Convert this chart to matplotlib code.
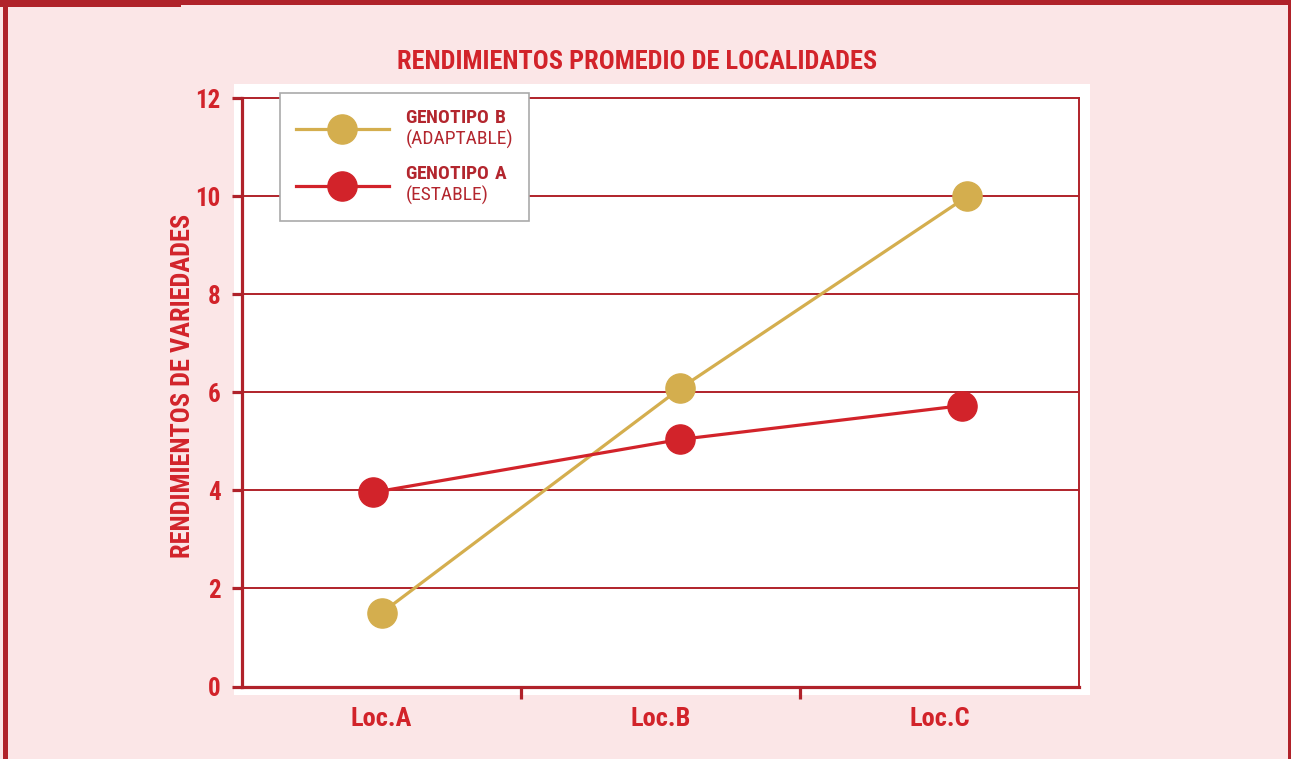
import matplotlib
matplotlib.use("Agg")
import matplotlib.pyplot as plt
from matplotlib import font_manager
from matplotlib.patches import Rectangle
from matplotlib.lines import Line2D

# ---------------- data ----------------
categories = ["Loc.A", "Loc.B", "Loc.C"]
cat_pos = [0, 1, 2]
# measured positions of the points along the category axis
x_b = [0.00, 1.07, 2.10]
y_b = [1.50, 6.08, 10.00]
x_a = [-0.03, 1.07, 2.08]
y_a = [3.96, 5.04, 5.73]
yticks = [0, 2, 4, 6, 8, 10, 12]
series_names = ["GENOTIPO B", "GENOTIPO A"]
series_subs = ["(ADAPTABLE)", "(ESTABLE)"]
title = "RENDIMIENTOS PROMEDIO DE LOCALIDADES"
ylabel = "RENDIMIENTOS DE VARIEDADES"

# ---------------- font choice ----------------
FONT = None
STRETCH = "normal"
cands = []
for f in font_manager.fontManager.ttflist:
    nm = f.name
    st = str(f.stretch)
    if ("Narrow" in nm or "Condensed" in nm or st in ("condensed", "semi-condensed",
                                                       "extra-condensed", "ultra-condensed")):
        cands.append((nm, st))
pref = ["Liberation Sans Narrow", "Roboto Condensed", "Open Sans Condensed",
        "Noto Sans Condensed", "DejaVu Sans Condensed", "Arial Narrow"]
for p in pref:
    for nm, st in cands:
        if nm == p:
            FONT = nm
            STRETCH = st
            break
    if FONT:
        break
if FONT is None and cands:
    FONT, STRETCH = cands[0]
if FONT is None:
    FONT = "Roboto"

plt.rcParams["font.family"] = [FONT, "DejaVu Sans"]
plt.rcParams["font.stretch"] = STRETCH if STRETCH != "normal" else "normal"
plt.rcParams["mathtext.fontset"] = "custom"
plt.rcParams["mathtext.bf"] = FONT + ":bold"
plt.rcParams["mathtext.rm"] = FONT

BG = "#fbe6e7"
TXT = "#d2232a"
DARK = "#b0222a"
LEG_TXT = "#b3262e"
GOLD = "#d4ae4e"
RED = "#d2232a"

W, H = 1291, 759
fig = plt.figure(figsize=(W / 100, H / 100), dpi=100)
fig.patch.set_facecolor(BG)

def fx(px):
    return px / W

def fy(py):
    return 1 - py / H

def frect(x0, y0, x1, y1, color):
    r = Rectangle((fx(x0), fy(y1)), fx(x1 - x0), (y1 - y0) / H,
                  transform=fig.transFigure, facecolor=color, edgecolor="none",
                  zorder=-5)
    fig.patches.append(r)

# outer frame
frect(3, 0, 8, H, DARK)
frect(0, 0, W, 5, DARK)
frect(0, 0, 181, 7, DARK)
frect(1287.5, 0, W, H, DARK)
# white panel behind plot
frect(234, 84, 1090, 695, "white")

ax = fig.add_axes([fx(242), fy(686.5), fx(1079 - 242), (686.5 - 98.3) / H])
ax.set_zorder(2)
ax.patch.set_facecolor("white")

ax.set_xlim(-0.5, 2.5)
ax.set_ylim(0, 12)

for y in yticks[1:-1]:
    ax.axhline(y, color=DARK, lw=1.4, zorder=1)

ax.plot(x_b, y_b, color=GOLD, lw=2.3, marker="o", ms=21, mfc=GOLD, mec=GOLD,
        zorder=3, clip_on=False)
ax.plot(x_a, y_a, color=RED, lw=2.3, marker="o", ms=21, mfc=RED, mec=RED,
        zorder=4, clip_on=False)

for s in ["left", "bottom"]:
    ax.spines[s].set_color(DARK)
    ax.spines[s].set_linewidth(2.3)
for s in ["right", "top"]:
    ax.spines[s].set_color(DARK)
    ax.spines[s].set_linewidth(1.4)

ax.set_yticks(yticks)
ax.set_yticklabels([str(v) for v in yticks])
ax.tick_params(axis="y", direction="out", length=7.5, width=2.3, color=DARK,
               labelsize=18, labelcolor=TXT, pad=8)
for t in ax.get_yticklabels():
    t.set_fontweight("bold")

ax.set_xticks(cat_pos)
ax.set_xticklabels(categories)
ax.tick_params(axis="x", which="major", length=0, labelsize=19, labelcolor=TXT, pad=15)
for t in ax.get_xticklabels():
    t.set_fontweight("bold")
ax.set_xticks([0.5, 1.5], minor=True)
ax.tick_params(axis="x", which="minor", direction="out", length=8.5, width=2.3, color=DARK)

fig.text(fx(637), fy(62), title, ha="center", va="center", fontsize=19,
         fontweight="bold", color=TXT)
fig.text(fx(183), fy(386), ylabel, ha="center", va="center", rotation=90,
         fontsize=19, fontweight="bold", color=TXT)

handles = [Line2D([], [], color=GOLD, lw=2.3, marker="o", ms=21, mfc=GOLD, mec=GOLD),
           Line2D([], [], color=RED, lw=2.3, marker="o", ms=21, mfc=RED, mec=RED)]
labels = [r"$\mathbf{%s}$" % n.replace(" ", r"\ ") + "\n" + s
          for n, s in zip(series_names, series_subs)]
leg = ax.legend(handles, labels, loc="upper left",
                bbox_to_anchor=(fx(280), fy(93)), bbox_transform=fig.transFigure,
                fontsize=14, frameon=True, fancybox=False, borderaxespad=0,
                handlelength=4.8, handletextpad=0.85, borderpad=0.8,
                labelspacing=0.85, numpoints=1)
leg.get_frame().set_edgecolor("#aaaaaa")
leg.get_frame().set_linewidth(1.2)
leg.get_frame().set_facecolor("white")
leg.get_frame().set_alpha(1)
for t in leg.get_texts():
    t.set_color(LEG_TXT)
    t.set_linespacing(1.2)
leg.set_zorder(10)

fig.savefig("out.png", dpi=100, facecolor=BG)
